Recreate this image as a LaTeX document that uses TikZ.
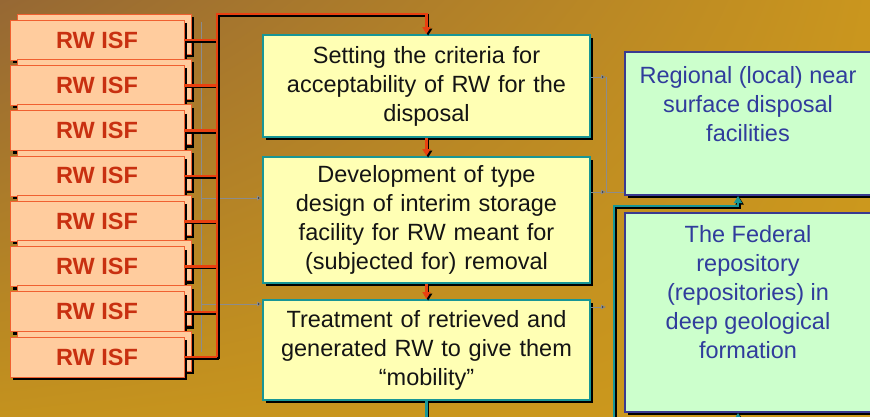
\documentclass[tikz,border=0pt]{standalone}
\usepackage{fontspec}
\setmainfont{Liberation Sans}
\usetikzlibrary{arrows.meta,shadows,shadings}
\definecolor{bgA}{RGB}{150,104,52}
\definecolor{bgB}{RGB}{202,150,30}
\definecolor{bgC}{RGB}{196,146,30}
\definecolor{bgD}{RGB}{206,154,28}
\definecolor{peach}{RGB}{255,204,158}
\definecolor{peachedge}{RGB}{240,96,48}
\definecolor{rwtext}{RGB}{200,48,16}
\definecolor{redline}{RGB}{232,64,16}
\definecolor{yellowfill}{RGB}{255,255,180}
\definecolor{tealedge}{RGB}{24,150,150}
\definecolor{greenfill}{RGB}{204,255,204}
\definecolor{blueedge}{RGB}{58,58,144}
\definecolor{bluetext}{RGB}{48,60,156}
\definecolor{thingray}{RGB}{140,140,140}
\newcommand\shdraw[2]{%
  \begin{scope}[transform canvas={shift={(1.6,1.6)}}]
    \draw[#1,draw=black] #2;
  \end{scope}
  \draw[#1] #2;}
\begin{document}
\begin{tikzpicture}[x=1pt,y=-1pt,
  shdw/.style={drop shadow={shadow xshift=3pt, shadow yshift=-3pt, fill=black, opacity=1}},
  rwsmall/.style={shdw, draw=peachedge, line width=0.8pt, fill=peach, minimum width=174pt, minimum height=40pt, inner sep=0pt},
  rwbox/.style={rwsmall, font=\fontsize{23.5}{28}\selectfont\bfseries, text=rwtext},
  midbox/.style={shdw, draw=tealedge, line width=2pt, fill=yellowfill, minimum width=327pt, text width=320pt, align=center, inner sep=0pt, font=\fontsize{23.5}{29}\selectfont, text=black!92},
  rightbox/.style={shdw, draw=blueedge, line width=2pt, fill=greenfill, minimum width=260pt, inner sep=0pt},
  righttext/.style={align=center, inner sep=0pt, font=\fontsize{23.5}{29}\selectfont, text=bluetext},
  redln/.style={draw=redline, line width=2.6pt},
  redarr/.style={redln, -{Triangle[length=7pt,width=8pt]}},
  tealln/.style={draw=tealedge, line width=2.6pt},
  tealarr/.style={tealln, -{Triangle[length=7pt,width=8pt]}},
  grayln/.style={draw=thingray, line width=0.8pt},
  grayarr/.style={grayln, -{Triangle[length=5pt,width=4.5pt,fill=black!80]}}
]
\useasboundingbox (0,0) rectangle (870,416);
\clip (0,0) rectangle (870,416);
\shade[upper left=bgA, upper right=bgB, lower left=bgC, lower right=bgD] (0,0) rectangle (870,416);

% RW ISF boxes
\foreach \i in {1,...,8}{
  \pgfmathsetmacro\cy{40+45.3*(\i-1)}
  \node[rwsmall] (rwb\i) at (104,\cy-6) {};
  \node[rwbox] (rw\i) at (97,\cy) {RW ISF};
}

% middle boxes
\node[midbox, minimum height=102pt] (A) at (426.5,86) {Setting the criteria for\\acceptability of RW for the\\disposal};
\node[midbox, minimum height=126pt] (B) at (426.5,220) {Development of  type\\design of interim storage\\facility for RW meant for\\(subjected for) removal};
\node[midbox, minimum height=100pt] (C) at (426.5,350) {Treatment of retrieved and\\generated RW to give them\\``mobility''};

% right boxes
\node[rightbox, minimum height=143pt] (r1) at (755,123.5) {};
\node[righttext] (r1t) at (748,104) {Regional (local) near\\surface disposal\\facilities};
\node[rightbox, minimum height=199pt] (r2) at (755,312.5) {};
\node[righttext] (r2t) at (748,292) {The Federal\\repository\\(repositories) in\\deep geological\\formation};

% coordinates
\coordinate (bt) at (217,14);
\coordinate (bb) at (217,357);
\coordinate (gL1) at (201,22);
\coordinate (gL2) at (201,352);
\coordinate (gLa) at (201,198);
\coordinate (gLb) at (201,304);
\coordinate (gR1) at (606,77);
\coordinate (gR2) at (606,192);
\coordinate (gR3) at (606,307);
\coordinate (bot) at (0,420);
\coordinate (tb1) at (614,420);
\coordinate (tb2) at (614,206);
\coordinate (ax) at (738,0);
\coordinate (bot2) at (738,420);

% thin gray connectors
\draw[grayln] (gL1) -- (gL2);
\draw[grayarr] (gLa) -- (B.west |- gLa);
\draw[grayarr] (gLb) -- (C.west |- gLb);
\draw[grayln] (gR1) -- (gR2) -- (r1.west |- gR2);
\draw[grayarr] (A.east |- gR1) -- (gR1);
\draw[grayarr] (B.east |- gR2) -- (gR2);
\draw[grayarr] (C.east |- gR3) -- (gR3);

% red connectors
\foreach \i in {1,...,8}{
  \shdraw{redln}{(rw\i.east) -- (bt |- rw\i.east)}
}
\shdraw{redarr}{(bb) -- (bt) -- (A.north |- bt) -- (A.north)}
\shdraw{redarr}{(A.south) -- (B.north)}
\shdraw{redarr}{(B.south) -- (C.north)}

% teal connectors
\shdraw{tealln}{(C.south) -- (C.south |- bot)}
\shdraw{tealarr}{(tb1) -- (tb2) -- (tb2 -| ax) -- (r1.south -| ax)}
\shdraw{tealarr}{(bot2) -- (r2.south -| bot2)}
\end{tikzpicture}
\end{document}
